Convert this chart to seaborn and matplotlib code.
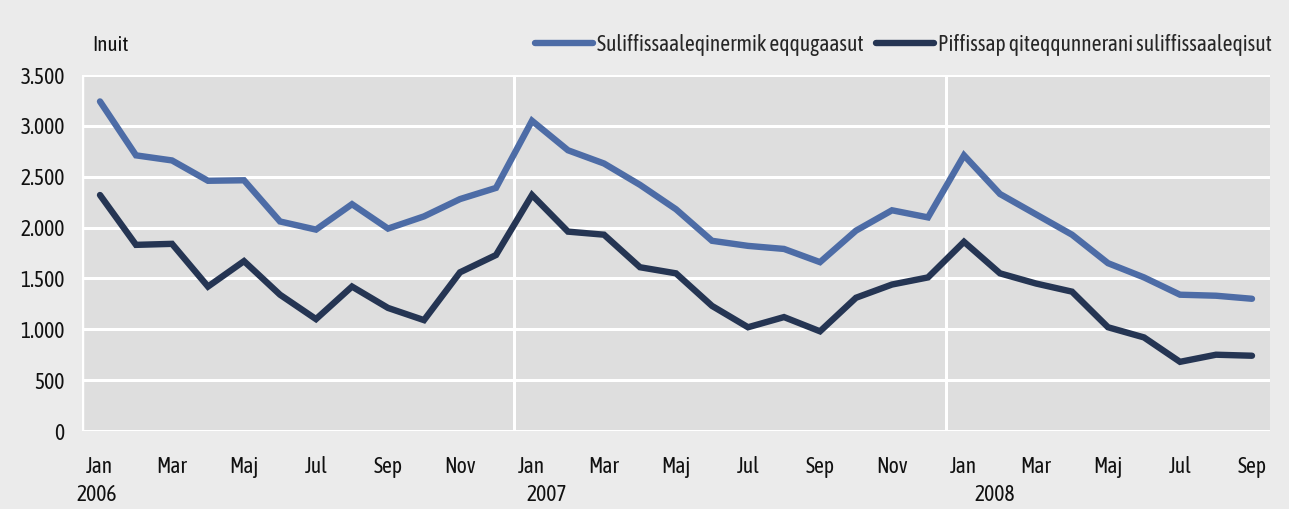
import matplotlib
matplotlib.use("Agg")
import matplotlib.pyplot as plt
import seaborn as sns
import pandas as pd
import numpy as np
from matplotlib import font_manager
from matplotlib.lines import Line2D

months = ["Jan", "Feb", "Mar", "Apr", "Maj", "Jun", "Jul", "Aug", "Sep", "Okt", "Nov", "Dec"] * 2 + \
         ["Jan", "Feb", "Mar", "Apr", "Maj", "Jun", "Jul", "Aug", "Sep"]
years = ["2006", "2007", "2008"]

series_names = ["Suliffissaaleqinermik eqqugaasut", "Piffissap qiteqqunnerani suliffissaaleqisut"]

blue_vals = [3240, 2710, 2660, 2460, 2465, 2060, 1980, 2230, 1990, 2110, 2280, 2390,
             3050, 2760, 2630, 2420, 2180, 1870, 1820, 1790, 1660, 1970, 2170, 2100,
             2710, 2330, 2130, 1930, 1650, 1510, 1340, 1330, 1300]
dark_vals = [2320, 1830, 1840, 1420, 1670, 1340, 1100, 1420, 1210, 1090, 1560, 1730,
             2320, 1960, 1930, 1610, 1550, 1230, 1020, 1120, 980, 1310, 1440, 1510,
             1860, 1550, 1450, 1370, 1020, 920, 680, 750, 740]

y_ticks = [0, 500, 1000, 1500, 2000, 2500, 3000, 3500]
y_label = "Inuit"

sns.set_style("white")
avail = {f.name for f in font_manager.fontManager.ttflist}
fam = [f for f in ["Asap Condensed", "Roboto Condensed", "Liberation Sans"] if f in avail][:1] + ["DejaVu Sans"]
plt.rcParams["font.family"] = fam
FS = 15.5

idx = np.arange(len(months))
df = pd.DataFrame({
    "t": np.concatenate([idx, idx]),
    "v": blue_vals + dark_vals,
    "s": [series_names[0]] * len(idx) + [series_names[1]] * len(idx),
})

fig = plt.figure(figsize=(12.89, 5.09), dpi=100, facecolor="#ebebeb")
ax = fig.add_axes([82 / 1289, 1 - 431 / 509, (1270 - 82) / 1289, (431 - 75) / 509])
ax.set_facecolor("#dedede")

palette = {series_names[0]: "#4d6ca6", series_names[1]: "#253553"}
sns.lineplot(data=df, x="t", y="v", hue="s", palette=palette, linewidth=4.6, ax=ax,
             legend=False, solid_capstyle="round", solid_joinstyle="miter")

ax.set_xlim(-0.5, len(months) - 0.5)
ax.set_ylim(0, 3500)
ax.set_yticks(y_ticks)
ax.set_yticklabels([f"{v:,}".replace(",", ".") for v in y_ticks], fontsize=FS, color="#111111")
ax.yaxis.grid(True, color="white", linewidth=2.2)
ax.set_axisbelow(True)
for x in [11.5, 23.5]:
    ax.axvline(x, color="white", linewidth=2.2, zorder=0.5)
for sp in ax.spines.values():
    sp.set_visible(False)
ax.axvline(-0.5, color="white", linewidth=2.5, zorder=0.5)

tick_pos = idx[::2]
ax.set_xticks(tick_pos)
ax.set_xticklabels([months[i] for i in tick_pos], fontsize=FS, color="#111111")
ax.tick_params(axis="x", length=0, pad=18)
ax.tick_params(axis="y", length=0, pad=12.5)
ax.set_xlabel("")
ax.set_ylabel("")

for yr, xp in zip(years, [-0.08, 12.4, 24.85]):
    ax.text(xp, -0.18, yr, transform=ax.get_xaxis_transform(), ha="center", va="center",
            fontsize=FS, color="#111111")

fig.text(92 / 1289, 1 - 45 / 509, y_label, ha="left", va="center", fontsize=FS - 0.5, color="#111111")

handles = [Line2D([0], [0], color=palette[n], linewidth=4.6, solid_capstyle="round") for n in series_names]
leg = fig.legend(handles, series_names, loc="center right", bbox_to_anchor=(1280 / 1289, 1 - 45 / 509),
                 ncol=2, frameon=False, fontsize=FS, handlelength=2.7, handletextpad=0.15,
                 columnspacing=0.6, borderaxespad=0)

fig.savefig("out.png", dpi=100, facecolor=fig.get_facecolor())
